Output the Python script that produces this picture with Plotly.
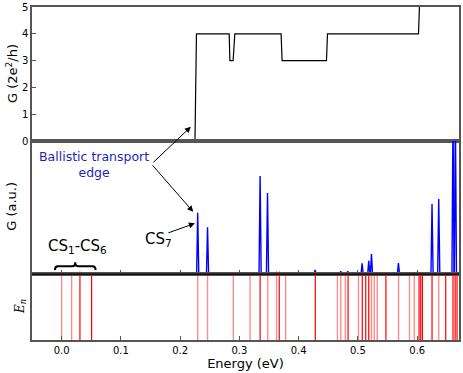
import plotly.graph_objects as go

# ---------------- data ----------------
# top panel: conductance step function G (2e^2/h)
step_E = [-0.05, 0.225, 0.2275, 0.2827, 0.2839, 0.2894, 0.2922, 0.3703, 0.3720,
          0.4469, 0.4486, 0.6022, 0.6052, 0.6705]
step_G = [0, 0, 4, 4, 3, 3, 4, 4, 3, 3, 4, 4, 6, 6]

# middle panel: conductance peaks (a.u.)
peak_E = [0.0, 0.0309, 0.2296, 0.2462, 0.3349, 0.3474, 0.3626, 0.3670, 0.4277, 0.4710,
          0.4828, 0.5070, 0.5182, 0.5228, 0.5683, 0.6250, 0.6363, 0.6604, 0.6644]
peak_H = [0.012, 0.012, 0.461, 0.351, 0.737, 0.609, 0.012, 0.012, 0.032, 0.022,
          0.022, 0.080, 0.100, 0.150, 0.083, 0.526, 0.564, 1.20, 1.20]

# bottom panel: energy levels E_n
levels_light = [0.0, 0.0169, 0.2296, 0.2462, 0.2897, 0.3180, 0.3478, 0.3626, 0.3780,
                0.4654, 0.4710, 0.4788, 0.5008, 0.5228, 0.5275, 0.5325, 0.5685,
                0.5870, 0.5950, 0.6363]
levels_dark = [0.0309, 0.0506, 0.3349, 0.3672, 0.4280, 0.4833, 0.5073, 0.5131, 0.5182,
               0.5472, 0.6031, 0.6059, 0.6088, 0.6250, 0.6481, 0.6604, 0.6640, 0.6672]

x_tickvals = [0.0, 0.1, 0.2, 0.3, 0.4, 0.5, 0.6]
x_ticktext = ["0.0", "0.1", "0.2", "0.3", "0.4", "0.5", "0.6"]
g_tickvals = [0, 1, 2, 3, 4, 5]
g_ticktext = ["0", "1", "2", "3", "4", "5"]

# ---------------- figure ----------------
W, H = 463, 373
FONT = "DejaVu Sans"
fig = go.Figure()

fig.add_trace(go.Scatter(x=step_E, y=step_G, mode="lines",
                         line=dict(color="black", width=1.2),
                         xaxis="x", yaxis="y", showlegend=False, hoverinfo="skip"))

px, py = [], []
hw = 0.0018
for e, h in zip(peak_E, peak_H):
    px += [e - hw, e, e + hw, None]
    py += [0, h, 0, None]
fig.add_trace(go.Scatter(x=px, y=py, mode="lines",
                         line=dict(color="#0000ff", width=1.4),
                         xaxis="x2", yaxis="y2", showlegend=False, hoverinfo="skip"))

def vlines(vals):
    xs, ys = [], []
    for v in vals:
        xs += [v, v, None]
        ys += [0, 1, None]
    return xs, ys

lx, ly = vlines(levels_light)
fig.add_trace(go.Scatter(x=lx, y=ly, mode="lines",
                         line=dict(color="rgba(255,0,0,0.45)", width=1.4),
                         xaxis="x3", yaxis="y3", showlegend=False, hoverinfo="skip"))
dx, dy = vlines(levels_dark)
fig.add_trace(go.Scatter(x=dx, y=dy, mode="lines",
                         line=dict(color="#ff0000", width=1.2),
                         xaxis="x3", yaxis="y3", showlegend=False, hoverinfo="skip"))

xr = [-0.05, 0.6705]
axcol = "#555555"
common_x = dict(range=xr, showgrid=False, zeroline=False, showline=True, mirror=True,
                linecolor=axcol, linewidth=1.5, ticks="inside", ticklen=4,
                tickcolor=axcol, tickvals=x_tickvals, automargin=False)
common_y = dict(showgrid=False, zeroline=False, showline=True, mirror=True,
                linecolor=axcol, linewidth=1.5, automargin=False)

fig.update_layout(
    width=W, height=H,
    margin=dict(l=32, r=4, t=7, b=33, autoexpand=False),
    paper_bgcolor="white", plot_bgcolor="white",
    font=dict(family=FONT, size=10, color="black"),
    xaxis=dict(common_x, anchor="y", showticklabels=False, ticks=""),
    yaxis=dict(common_y, domain=[0.5976, 1.0], range=[0, 5], anchor="x",
               ticks="inside", ticklen=4, tickcolor=axcol,
               tickvals=g_tickvals, ticktext=g_ticktext, tickfont=dict(size=10)),
    xaxis2=dict(common_x, anchor="y2", matches="x", showticklabels=False),
    yaxis2=dict(common_y, domain=[0.198, 0.5976], range=[0, 1], anchor="x2",
                ticks="", showticklabels=False),
    xaxis3=dict(common_x, anchor="y3", matches="x", showticklabels=True,
                ticktext=x_ticktext, tickfont=dict(size=10),
                title=dict(text="Energy (eV)", font=dict(size=13), standoff=2)),
    yaxis3=dict(common_y, domain=[0.0, 0.198], range=[0, 1], anchor="x3",
                ticks="", showticklabels=False),
)

# boundary line between middle and bottom panel (black)
fig.add_shape(type="line", xref="paper", yref="paper", x0=0, x1=1, y0=0.198, y1=0.198,
              line=dict(color="black", width=1.2))

ann = []
# axis titles
ann.append(dict(text="G (2e<sup>2</sup>/h)", xref="paper", yref="paper", x=0, y=0.7988,
                xanchor="center", yanchor="middle", xshift=-20, textangle=-90,
                showarrow=False, font=dict(size=13)))
ann.append(dict(text="G (a.u.)", xref="paper", yref="paper", x=0, y=0.40,
                xanchor="center", yanchor="middle", xshift=-20, textangle=-90,
                showarrow=False, font=dict(size=13)))
ann.append(dict(text="<i>E<sub>n</sub></i>", xref="paper", yref="paper", x=0, y=0.099,
                xanchor="center", yanchor="middle", xshift=-11, textangle=-90,
                showarrow=False, font=dict(size=12, family="DejaVu Serif")))
# text labels
ann.append(dict(text="Ballistic transport<br>edge", x=0.0545, y=0.82, xref="x2", yref="y2",
                showarrow=False, font=dict(size=12.5, color="#1f1fb8"), align="center"))
ann.append(dict(text="CS<sub>7</sub>", x=0.163, y=0.26, xref="x2", yref="y2",
                showarrow=False, font=dict(size=15)))
ann.append(dict(text="CS<sub>1</sub>-CS<sub>6</sub>", x=0.0275, y=0.21, xref="x2", yref="y2",
                showarrow=False, font=dict(size=15)))
# arrows
ann.append(dict(text="", x=0.218, y=0.53, xref="x", yref="y", showarrow=True,
                ax=-39, ay=37, arrowhead=2, arrowsize=1.2, arrowwidth=1, arrowcolor="black"))
ann.append(dict(text="", x=0.222, y=0.468, xref="x2", yref="y2", showarrow=True,
                ax=-42, ay=-48, arrowhead=2, arrowsize=1.2, arrowwidth=1, arrowcolor="black"))
ann.append(dict(text="", x=0.2248, y=0.381, xref="x2", yref="y2", showarrow=True,
                ax=-28, ay=10, arrowhead=2, arrowsize=1.2, arrowwidth=1, arrowcolor="black"))
fig.update_layout(annotations=ann)

# curly brace over CS1-CS6
x0, x1 = -0.0113, 0.0573
xm = (x0 + x1) / 2
yb, yl, yt = 0.03, 0.058, 0.088
d = 0.005
path = (f"M {x0},{yb} Q {x0},{yl} {x0+d},{yl} L {xm-d},{yl} Q {xm},{yl} {xm},{yt} "
        f"Q {xm},{yl} {xm+d},{yl} L {x1-d},{yl} Q {x1},{yl} {x1},{yb}")
fig.add_shape(type="path", path=path, xref="x2", yref="y2",
              line=dict(color="black", width=2))

fig.write_html("out.html", config={"displayModeBar": False},
               post_script="document.body.style.margin='0';")
